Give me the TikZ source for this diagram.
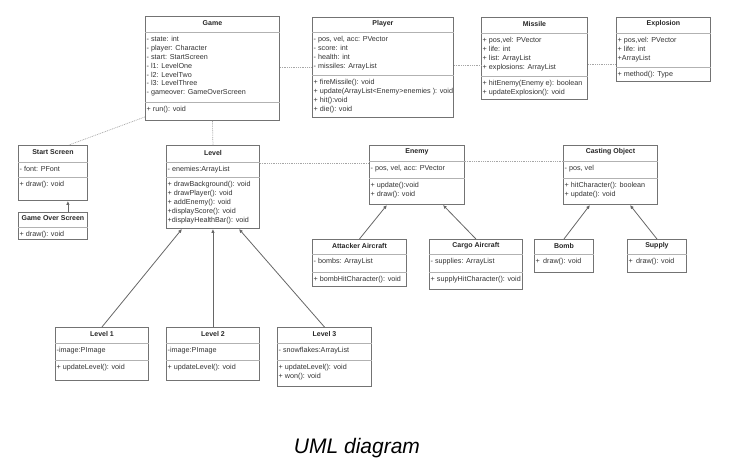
\documentclass[tikz,border=0pt]{standalone}
\usepackage{fontspec}
\setmainfont{Liberation Sans}
\usetikzlibrary{arrows.meta,calc}

\newcommand{\umlclass}[9]{%
  \node[classbox, minimum width=#3pt, minimum height=#4pt, anchor=north west] (#1) at #2 {};
  \path (#1.north west) ++(0,#5) coordinate (#1-t) ++(0,#6) coordinate (#1-a);
  \draw[sepline] (#1-t) -- (#1-t -| #1.east);
  \draw[sepline] (#1-a) -- (#1-a -| #1.east);
  \node[classname] at ($(#1.north)!0.5!(#1-t -| #1.north)$) {#7};
  \node[members] at (#1-t) {#8};
  \node[members] at (#1-a) {#9};
}
\newcommand{\umlsimple}[7]{%
  \node[classbox, minimum width=#3pt, minimum height=#4pt, anchor=north west] (#1) at #2 {};
  \path (#1.north west) ++(0,#5) coordinate (#1-t);
  \draw[sepline] (#1-t) -- (#1-t -| #1.east);
  \node[classname] at ($(#1.north)!0.5!(#1-t -| #1.north)$) {#6};
  \node[members] at (#1-t) {#7};
}

\begin{document}
\begin{tikzpicture}[x=1pt, y=-1pt,
  classbox/.style={draw=black!55, line width=0.9pt, fill=white, inner sep=0pt},
  sepline/.style={draw=black!30, line width=0.9pt},
  classname/.style={font=\fontsize{7}{8}\selectfont\bfseries, text=black!85, yshift=1pt},
  members/.style={anchor=north west, align=left, inner xsep=1.5pt, inner ysep=4.5pt, font=\fontsize{7.2}{8.8}\selectfont, text=black!80},
  inherit/.style={draw=black!60, line width=0.8pt, -{Latex[length=4pt,width=3.5pt]}},
  uses/.style={draw=black!35, line width=0.7pt, dash pattern=on 0.9pt off 0.9pt}]
	\useasboundingbox (0,0) rectangle (730,475);

	\umlclass{game}{(145,16)}{134}{104}{16}{70}{Game}
	  {- state: int\\- player: Character\\- start: StartScreen\\- l1: LevelOne\\- l2: LevelTwo\\- l3: LevelThree\\- gameover: GameOverScreen}
	  {+ run(): void}
	\umlclass{player}{(312,17)}{141}{100}{15}{43}{Player}
	  {- pos, vel, acc: PVector\\- score: int\\- health: int\\- missiles: ArrayList}
	  {+ fireMissile(): void\\+ update(ArrayList<Enemy>enemies ): void\\+ hit():void\\+ die(): void}
	\umlclass{missile}{(481,17)}{106}{82}{16}{43}{Missile}
	  {+ pos,vel: PVector\\+ life: int\\+ list: ArrayList\\+ explosions: ArrayList}
	  {+ hitEnemy(Enemy e): boolean\\+ updateExplosion(): void}
	\umlclass{explosion}{(616,17)}{94}{64}{16}{34}{Explosion}
	  {+ pos,vel: PVector\\+ life: int\\+ArrayList}
	  {+ method(): Type}

	\umlclass{startscreen}{(18,145)}{69}{55}{17}{15}{Start Screen}
	  {- font: PFont}
	  {+ draw(): void}
	\umlsimple{gameover}{(18,212)}{69}{27}{15}{Game Over Screen}{+ draw(): void}
	\umlclass{level}{(166,145)}{93}{83}{17}{15}{Level}
	  {- enemies:ArrayList}
	  {+ drawBackground(): void\\+ drawPlayer(): void\\+ addEnemy(): void\\+displayScore(): void\\+displayHealthBar(): void}
	\umlclass{enemy}{(369,145)}{95}{59}{16}{17}{Enemy}
	  {- pos, vel, acc: PVector}
	  {+ update():void\\+ draw(): void}
	\umlclass{casting}{(563,145)}{94}{59}{16}{17}{Casting Object}
	  {- pos, vel}
	  {+ hitCharacter(): boolean\\+ update(): void}

	\umlclass{attacker}{(312,239)}{94}{47}{15}{18}{Attacker Aircraft}
	  {- bombs: ArrayList}
	  {+ bombHitCharacter(): void}
	\umlclass{cargo}{(429,239)}{93}{50}{15}{18}{Cargo Aircraft}
	  {- supplies: ArrayList}
	  {+ supplyHitCharacter(): void}
	\umlsimple{bomb}{(534,239)}{59}{33}{15}{Bomb}{+ \,draw(): void}
	\umlsimple{supply}{(627,239)}{59}{33}{15}{Supply}{+ \,draw(): void}

	\umlclass{levelone}{(55,327)}{93}{53}{16}{17}{Level 1}
	  {-image:PImage}
	  {+ updateLevel(): void}
	\umlclass{leveltwo}{(166,327)}{93}{53}{16}{17}{Level 2}
	  {-image:PImage}
	  {+ updateLevel(): void}
	\umlclass{levelthree}{(277,327)}{94}{59}{16}{17}{Level 3}
	  {- snowflakes:ArrayList}
	  {+ updateLevel(): void\\+ won(): void}

	\draw[uses] (game.south) -- (level.north);
	\draw[uses] ($(game.south west)+(0,-4)$) -- ($(startscreen.north east)+(-19,0)$);
	\draw[uses] (player.west -| game.east) -- (player.west);
	\draw[uses] ($(player.north east)+(0,48)$) -- ($(missile.north west)+(0,48)$);
	\draw[uses] ($(missile.north east)+(0,47)$) -- ($(explosion.north west)+(0,47)$);
	\draw[uses] ($(level.north east)+(0,18)$) -- ($(enemy.north west)+(0,18)$);
	\draw[uses] ($(enemy.north east)+(0,16)$) -- ($(casting.north west)+(0,16)$);

	\draw[inherit] ($(gameover.north east)+(-20,0)$) -- ($(startscreen.south east)+(-20,0)$);
	\draw[inherit] (levelone.north) -- ($(level.south west)+(16,0)$);
	\draw[inherit] (leveltwo.north) -- (level.south);
	\draw[inherit] (levelthree.north) -- ($(level.south east)+(-21,0)$);
	\draw[inherit] (attacker.north) -- ($(enemy.south west)+(18,0)$);
	\draw[inherit] (cargo.north) -- ($(enemy.south east)+(-22,0)$);
	\draw[inherit] (bomb.north) -- ($(casting.south west)+(27,0)$);
	\draw[inherit] (supply.north) -- ($(casting.south east)+(-28,0)$);

	\node[font=\fontsize{21}{24}\selectfont\itshape] (caption) at (357,448) {UML diagram};
\end{tikzpicture}
\end{document}
